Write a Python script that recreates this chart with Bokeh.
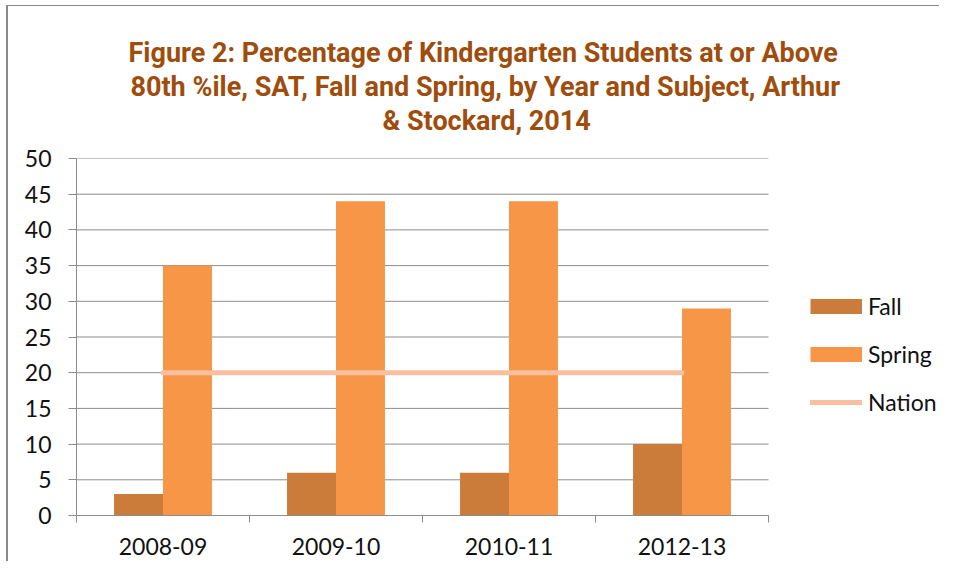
from bokeh.plotting import figure
from bokeh.models import FixedTicker, Legend, LegendItem, Range1d, Title
from bokeh.embed import file_html
from bokeh.resources import INLINE

# ---- data ----
years = ["2008-09", "2009-10", "2010-11", "2012-13"]
fall = [3, 6, 6, 10]
spring = [35, 44, 44, 29]
nation = [20, 20, 20, 20]
y_ticks = [0, 5, 10, 15, 20, 25, 30, 35, 40, 45, 50]
title_lines = [
    "Figure 2: Percentage of Kindergarten Students at or Above",
    "80th %ile, SAT, Fall and Spring, by Year and Subject,  Arthur",
    "& Stockard, 2014",
]

# ---- styles / layout ----
FALL_C = "#CB7B3A"
SPRING_C = "#F79646"
NATION_C = "#F9BFA0"
GRID_C = "#8C8C8C"
BORDER_C = "#8A8A8A"
TITLE_C = "#9E4D0D"
FONT = "Lato"
SHIFT_X, SHIFT_Y = 8, 6          # space taken by the chart-area border
W, H = 941 - SHIFT_X, 562 - SHIFT_Y
FRAME_L, PLOT_R = 76 - SHIFT_X, 768 - SHIFT_X
FRAME_T, FRAME_B = 158 - SHIFT_Y, 515 - SHIFT_Y
title_offsets = [52, 54, 306]  # left offsets from frame left

n = len(years)
centers = [i + 0.5 for i in range(n)]
bar_w = 0.283
# the frame runs to the right edge so the legend can sit inside it;
# the category area keeps its width of (PLOT_R - FRAME_L) pixels
x_end = n * (W - FRAME_L) / (PLOT_R - FRAME_L)

p = figure(width=W, height=H, output_backend="svg", toolbar_location=None,
           x_range=Range1d(0, x_end), y_range=Range1d(0, 50),
           min_border_left=FRAME_L, min_border_right=0,
           min_border_top=FRAME_T, min_border_bottom=H - FRAME_B)
p.outline_line_color = None
p.styles = {"margin-left": "6px", "margin-top": "5px",
            "border-left": "2px solid " + BORDER_C,
            "border-top": "1px solid " + BORDER_C}
p.title.standoff = 3

# spacer between title and chart, then one Title per line (frame outward)
p.add_layout(Title(text=" ", text_font_size="18px", standoff=0), "above")
for i in reversed(range(len(title_lines))):
    t = Title(text=title_lines[i], align="left", offset=title_offsets[i],
              text_font="Roboto", text_font_style="bold",
              text_font_size="27px", text_color=TITLE_C, standoff=0)
    p.add_layout(t, "above")

# y axis
p.yaxis.ticker = FixedTicker(ticks=y_ticks)
p.yaxis.major_tick_out = 8
p.yaxis.major_tick_in = 0
p.yaxis.minor_tick_out = 0
p.yaxis.minor_tick_in = 0
p.yaxis.axis_line_color = GRID_C
p.yaxis.major_tick_line_color = GRID_C
p.yaxis.major_label_text_font = FONT
p.yaxis.major_label_text_font_size = "23px"
p.yaxis.major_label_text_color = "#111111"
p.yaxis.major_label_standoff = 17

# x axis with ticks at category boundaries
p.xaxis.bounds = (0, n)
p.xaxis.ticker = FixedTicker(ticks=centers, minor_ticks=list(range(n + 1)))
p.xaxis.major_label_overrides = {c: y for c, y in zip(centers, years)}
p.xaxis.major_tick_out = 0
p.xaxis.major_tick_in = 0
p.xaxis.minor_tick_out = 7
p.xaxis.minor_tick_in = 0
p.xaxis.minor_tick_line_color = GRID_C
p.xaxis.axis_line_color = GRID_C
p.xaxis.major_label_text_font = FONT
p.xaxis.major_label_text_font_size = "23px"
p.xaxis.major_label_text_color = "#111111"
p.xaxis.major_label_standoff = 15

# horizontal gridlines across the category area only
p.xgrid.visible = False
p.ygrid.visible = False
p.segment(x0=[0] * len(y_ticks), x1=[n] * len(y_ticks), y0=y_ticks, y1=y_ticks,
          line_color=GRID_C, line_width=1, level="underlay")

# bars
p.vbar(x=[c - bar_w / 2 for c in centers], top=fall, width=bar_w,
       fill_color=FALL_C, line_color=None)
p.vbar(x=[c + bar_w / 2 for c in centers], top=spring, width=bar_w,
       fill_color=SPRING_C, line_color=None)
nat = p.line(x=centers, y=nation, line_color=NATION_C, line_width=5,
             line_cap="round")

# legend swatches (no visible marks in the plot)
nan = float("nan")
fall_sw = p.line(x=centers, y=[nan] * n, line_color=FALL_C, line_width=15,
                 line_cap="butt")
spring_sw = p.line(x=centers, y=[nan] * n, line_color=SPRING_C, line_width=15,
                   line_cap="butt")

legend = Legend(items=[
    LegendItem(label="Fall", renderers=[fall_sw]),
    LegendItem(label="Spring", renderers=[spring_sw]),
    LegendItem(label="Nation", renderers=[nat]),
], location=(810 - 76, 99), orientation="vertical",
    glyph_width=52, glyph_height=28, label_height=28, spacing=20,
    label_standoff=6, padding=0, margin=0,
    label_text_font=FONT, label_text_font_size="23px",
    label_text_color="#111111",
    border_line_color=None, background_fill_alpha=0)
p.add_layout(legend, "center")

open("out.html", "w").write(file_html(p, INLINE))
